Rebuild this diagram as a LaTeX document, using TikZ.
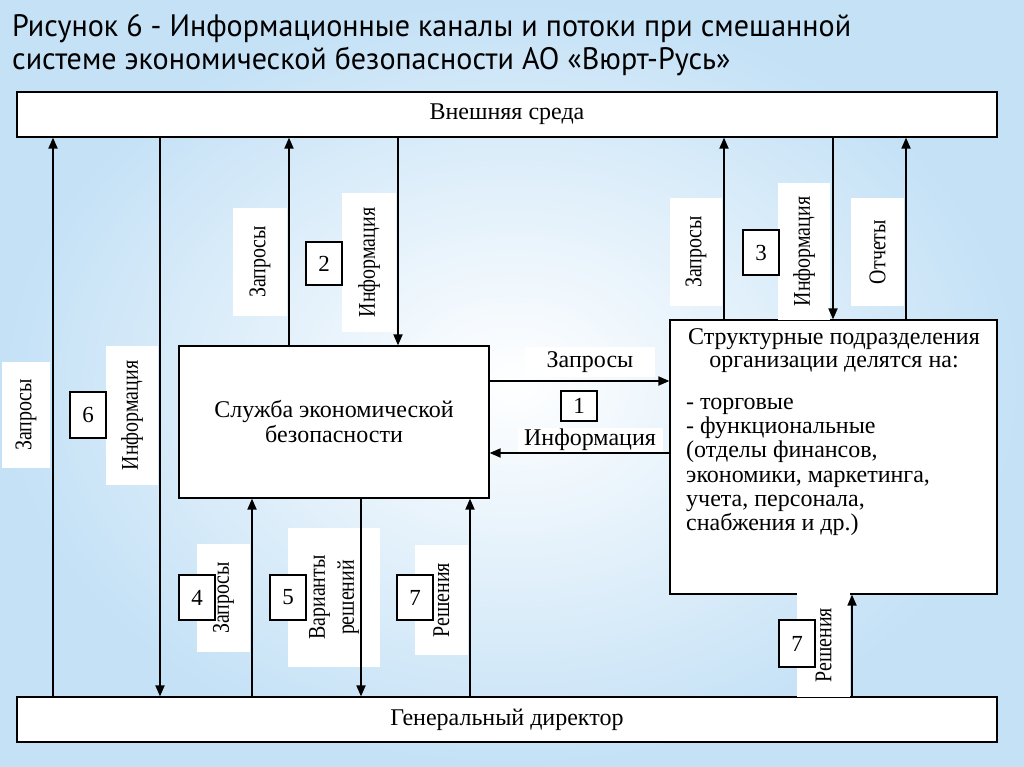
\documentclass[tikz,border=0pt]{standalone}
\usepackage{fontspec}
\setmainfont{Liberation Serif}
\newfontfamily\titlefont[FakeStretch=0.97]{PT Sans}
\usetikzlibrary{arrows.meta}
\definecolor{bgblue}{RGB}{196,225,246}
\tikzset{
  box/.style={draw, fill=white, line width=1.2pt, inner sep=0pt, font=\fontsize{24}{25}\selectfont},
  numbox/.style={draw, fill=white, line width=1.2pt, minimum width=36pt, minimum height=44pt, inner sep=0pt, font=\fontsize{23}{24}\selectfont},
  vlbl/.style={fill=white, inner sep=0pt, rotate=90, font=\fontsize{24}{29}\selectfont, align=center},
  hlbl/.style={fill=white, inner sep=0pt, font=\fontsize{24}{25}\selectfont},
  flow/.style={line width=1.8pt, -{Triangle[length=11pt,width=9pt]}},
}
\newcommand{\vt}[1]{\scalebox{0.83}[1]{#1}}
\begin{document}
\begin{tikzpicture}[x=1pt,y=-1pt]
\useasboundingbox (0,0) rectangle (1024,767);
\shade[inner color=white, outer color=bgblue] (0,0) rectangle (1024,767);
% title
\node[anchor=base west, inner sep=0pt, font=\titlefont\fontsize{31}{34}\selectfont] (t1) at (12,37) {Рисунок 6 - Информационные каналы и потоки при смешанной};
\node[anchor=base west, inner sep=0pt, font=\titlefont\fontsize{31}{34}\selectfont] (t2) at (12,70) {системе экономической безопасности АО «Вюрт-Русь»};
% main boxes
\node[box, minimum width=980pt, minimum height=45pt] (top) at (507,114.5) {Внешняя среда};
\node[box, minimum width=980pt, minimum height=45pt] (bot) at (507,719.5) {Генеральный директор};
\node[box, minimum width=310pt, minimum height=152pt, align=center] (svc) at (334,422) {Служба экономической\\безопасности};
\node[box, minimum width=327pt, minimum height=274pt] (str) at (833.5,457) {};
\node[inner sep=0pt, align=center, font=\fontsize{24}{23}\selectfont] (strh) at (834,351) {Структурные подразделения\\организации делятся на:};
\node[inner sep=0pt, align=left, anchor=north west, font=\fontsize{24}{24.2}\selectfont] (strl) at (686,398) {- торговые\\- функциональные\\(отделы финансов,\\экономики, маркетинга,\\учета, персонала,\\снабжения и др.)};
% label backgrounds
\node[vlbl, minimum width=106pt, minimum height=48pt] (L1) at (26,415) {\vt{Запросы}};
\node[vlbl, minimum width=139pt, minimum height=52pt] (L6) at (132,415.5) {\vt{Информация}};
\node[vlbl, minimum width=108pt, minimum height=54pt] (L2q) at (260,262) {\vt{Запросы}};
\node[vlbl, minimum width=139pt, minimum height=54pt] (L2i) at (369,262.5) {\vt{Информация}};
\node[vlbl, minimum width=108pt, minimum height=52pt] (L3q) at (696,252) {\vt{Запросы}};
\node[vlbl, minimum width=137pt, minimum height=52pt] (L3i) at (804,251.5) {\vt{Информация}};
\node[vlbl, minimum width=108pt, minimum height=53pt] (L3o) at (877.5,252) {\vt{Отчеты}};
\node[vlbl, minimum width=108pt, minimum height=53pt] (L4) at (223.5,598) {\vt{Запросы}};
\node[vlbl, minimum width=139pt, minimum height=92pt] (L5) at (334,597.5) {\vt{Варианты}\\\vt{решений}};
\node[vlbl, minimum width=110pt, minimum height=53pt] (L7a) at (441.5,600) {\vt{Решения}};
\node[vlbl, minimum width=104pt, minimum height=53pt] (L7b) at (823.5,645) {\vt{Решения}};
\node[hlbl, minimum width=130pt, minimum height=30pt] (H1) at (590,362) {Запросы};
\node[hlbl, minimum width=145pt, minimum height=24pt] (H2) at (590,440) {Информация};
% number boxes
\node[numbox, minimum height=46pt] (n6) at (88,415) {6};
\node[numbox, minimum height=43pt] (n2) at (324,263.5) {2};
\node[numbox, minimum height=45pt] (n3) at (761,252.5) {3};
\node[numbox, minimum height=30pt] (n1) at (579,406) {1};
\node[numbox, minimum height=45pt] (n4) at (197,597.5) {4};
\node[numbox, minimum height=45pt] (n5) at (288,597.5) {5};
\node[numbox, minimum height=45pt] (n7a) at (415,597.5) {7};
\node[numbox, minimum height=47pt] (n7b) at (797,643.5) {7};
% x positions
\coordinate (x1) at (53,0);
\coordinate (x2) at (160,0);
\coordinate (x3) at (289,0);
\coordinate (x4) at (398,0);
\coordinate (x5) at (724,0);
\coordinate (x6) at (833,0);
\coordinate (x7) at (906,0);
\coordinate (x8) at (252,0);
\coordinate (x9) at (361,0);
\coordinate (x10) at (470,0);
\coordinate (x11) at (852,0);
\coordinate (y1) at (0,381);
\coordinate (y2) at (0,453);
% flows
\draw[flow] (x1 |- bot.north) -- (x1 |- top.south);
\draw[flow] (x2 |- top.south) -- (x2 |- bot.north);
\draw[flow] (x3 |- svc.north) -- (x3 |- top.south);
\draw[flow] (x4 |- top.south) -- (x4 |- svc.north);
\draw[flow] (x5 |- str.north) -- (x5 |- top.south);
\draw[flow] (x6 |- top.south) -- (x6 |- str.north);
\draw[flow] (x7 |- str.north) -- (x7 |- top.south);
\draw[flow] (x8 |- bot.north) -- (x8 |- svc.south);
\draw[flow] (x9 |- svc.south) -- (x9 |- bot.north);
\draw[flow] (x10 |- bot.north) -- (x10 |- svc.south);
\draw[flow] (x11 |- bot.north) -- (x11 |- str.south);
\draw[flow] (svc.east |- y1) -- (str.west |- y1);
\draw[flow] (str.west |- y2) -- (svc.east |- y2);
\end{tikzpicture}
\end{document}
